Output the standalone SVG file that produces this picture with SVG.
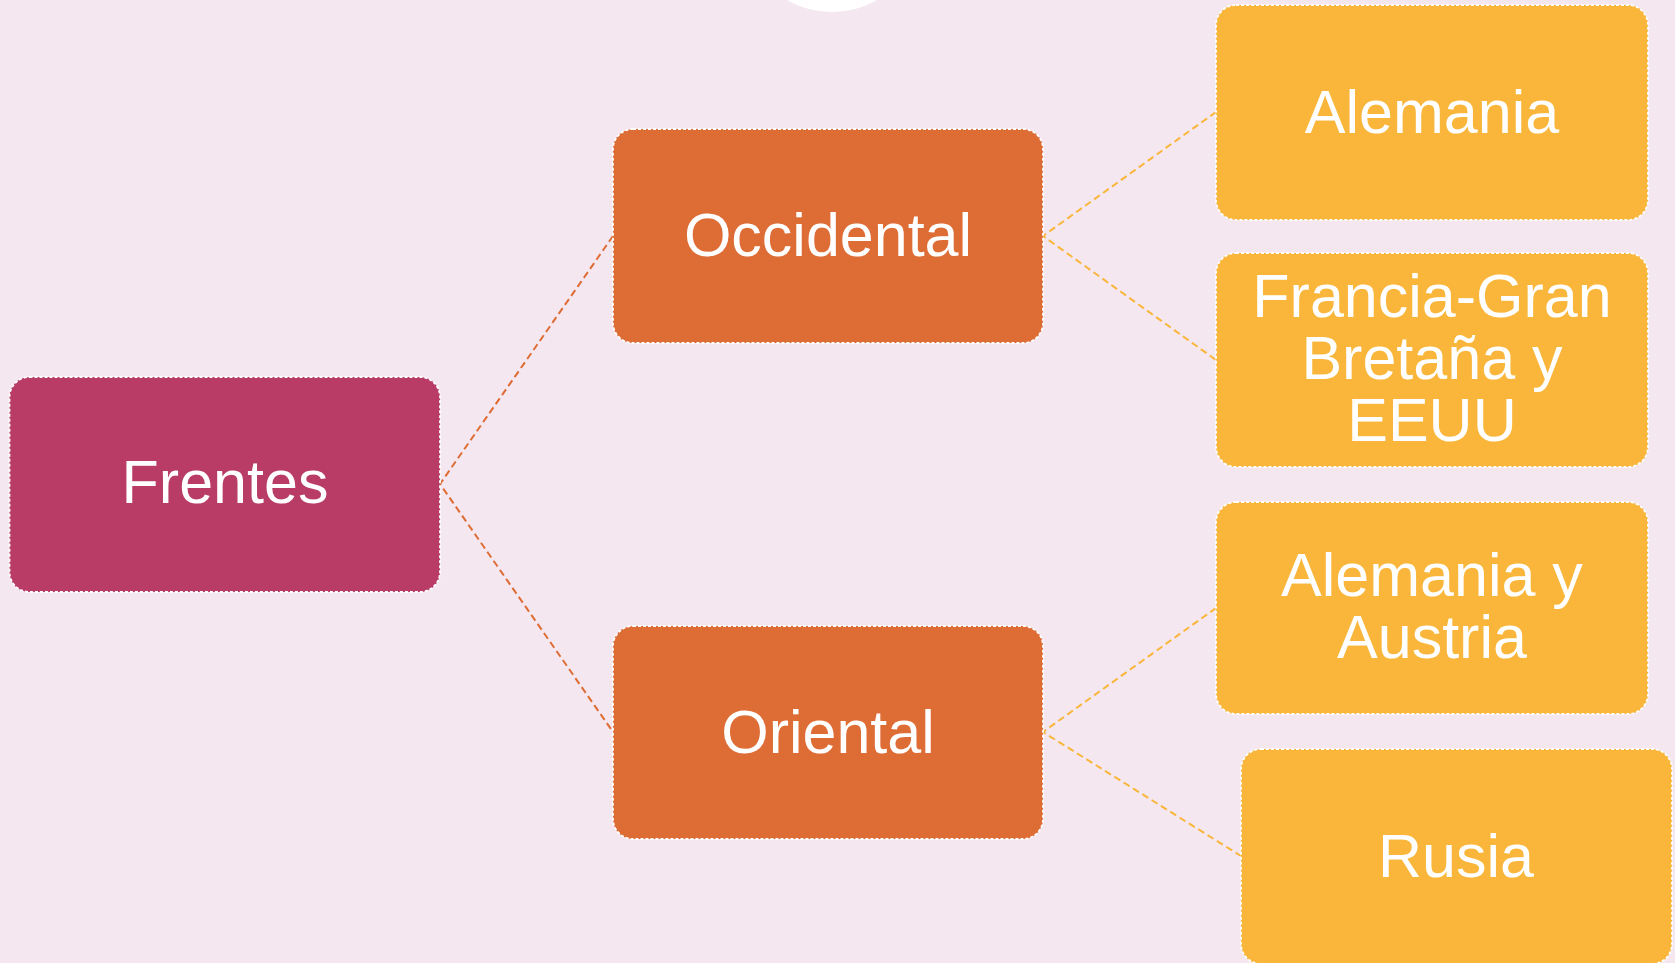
<svg xmlns="http://www.w3.org/2000/svg" width="1675" height="963" viewBox="0 0 1675 963">
<style>
.box{stroke:#FFFFFF;stroke-width:1.8;stroke-dasharray:3 2}
.t{font-family:"Liberation Sans",Arial,sans-serif;font-size:61px;fill:#FFFFFF;text-anchor:middle}
.c1{stroke:#DE6C35;stroke-width:2;stroke-dasharray:7 4;fill:none}
.c2{stroke:#F9B63A;stroke-width:2;stroke-dasharray:7 4;fill:none}
</style>
<rect width="1675" height="963" fill="#F4E7EF"/>
<circle cx="832" cy="-78" r="90" fill="#FFFFFF"/>
<g id="connectors">
<polyline class="c1" points="613,236 440,484 613,732"/>
<polyline class="c2" points="1216,112 1043,236 1216,360"/>
<polyline class="c2" points="1216,608 1043,732 1241,856"/>
</g>
<g id="frentes">
<rect class="box" x="9.5" y="377" width="430.5" height="215" rx="20" fill="#B83C66"/>
<text class="t" x="225" y="503">Frentes</text>
</g>
<g id="occidental">
<rect class="box" x="613" y="129" width="430" height="214" rx="20" fill="#DE6C35"/>
<text class="t" x="828" y="256">Occidental</text>
</g>
<g id="oriental">
<rect class="box" x="613" y="626" width="430" height="213" rx="20" fill="#DE6C35"/>
<text class="t" x="828" y="753">Oriental</text>
</g>
<g id="alemania">
<rect class="box" x="1216" y="5" width="432" height="215" rx="20" fill="#F9B63A"/>
<text class="t" x="1432" y="133">Alemania</text>
</g>
<g id="francia">
<rect class="box" x="1216" y="253" width="432" height="214" rx="20" fill="#F9B63A"/>
<text class="t" x="1432" y="317">Francia-Gran</text>
<text class="t" x="1432" y="379">Bretaña y</text>
<text class="t" x="1432" y="441">EEUU</text>
</g>
<g id="alemania-austria">
<rect class="box" x="1216" y="502" width="432" height="212" rx="20" fill="#F9B63A"/>
<text class="t" x="1432" y="596">Alemania y</text>
<text class="t" x="1432" y="658">Austria</text>
</g>
<g id="rusia">
<rect class="box" x="1241" y="749" width="431" height="215" rx="20" fill="#F9B63A"/>
<text class="t" x="1456" y="877">Rusia</text>
</g>
</svg>
